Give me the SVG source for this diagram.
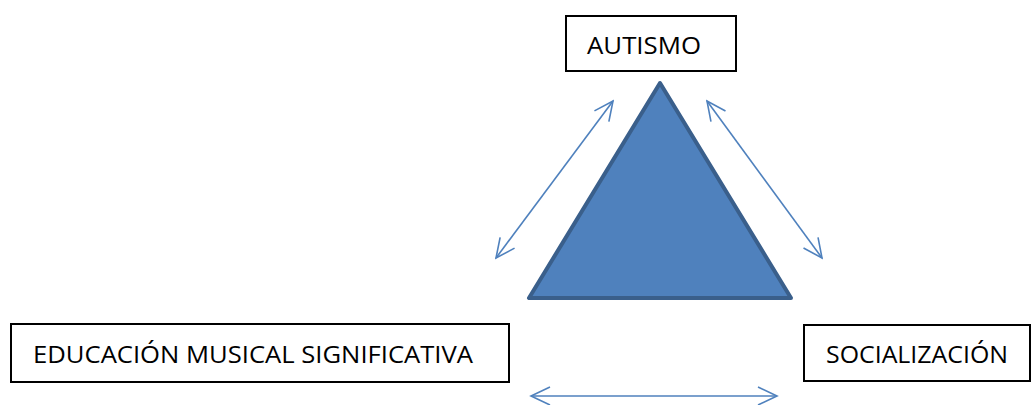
<svg xmlns="http://www.w3.org/2000/svg" width="1032" height="405" viewBox="0 0 1032 405">
<style>
.box{fill:#fff;stroke:#000;stroke-width:2}
.lbl{font-family:"Open Sans","Liberation Sans",Arial,sans-serif;font-size:24px;fill:#000}
.conn{stroke:#4F81BD;stroke-width:1.6;fill:none;marker-start:url(#ah);marker-end:url(#ah)}
</style>
<defs>
<marker id="ah" viewBox="0 0 24 24" refX="22" refY="12" markerWidth="24" markerHeight="24" markerUnits="userSpaceOnUse" orient="auto-start-reverse">
<path d="M3,3 L22,12 L3,21" fill="none" stroke="#4F81BD" stroke-width="1.6"/>
</marker>
</defs>
<rect width="1032" height="405" fill="#fff"/>
<g id="triangle">
<polygon points="660,83 529,298 791,298" fill="#4F81BD" stroke="#3A5F8B" stroke-width="4" stroke-linejoin="round"/>
</g>
<g id="connectors">
<line class="conn" x1="496" y1="258" x2="613" y2="101"/>
<line class="conn" x1="707" y1="101" x2="822" y2="258"/>
<line class="conn" x1="531" y1="396" x2="777" y2="396"/>
</g>
<g id="autismo">
<rect class="box" x="566" y="16" width="170" height="55"/>
<text class="lbl" x="587" y="54" textLength="114" lengthAdjust="spacingAndGlyphs">AUTISMO</text>
</g>
<g id="educacion">
<rect class="box" x="11" y="324" width="498" height="58"/>
<text class="lbl" x="33" y="363" textLength="440" lengthAdjust="spacingAndGlyphs">EDUCACIÓN MUSICAL SIGNIFICATIVA</text>
</g>
<g id="socializacion">
<rect class="box" x="804" y="325" width="226" height="56"/>
<text class="lbl" x="826" y="363" textLength="182" lengthAdjust="spacingAndGlyphs">SOCIALIZACIÓN</text>
</g>
</svg>
